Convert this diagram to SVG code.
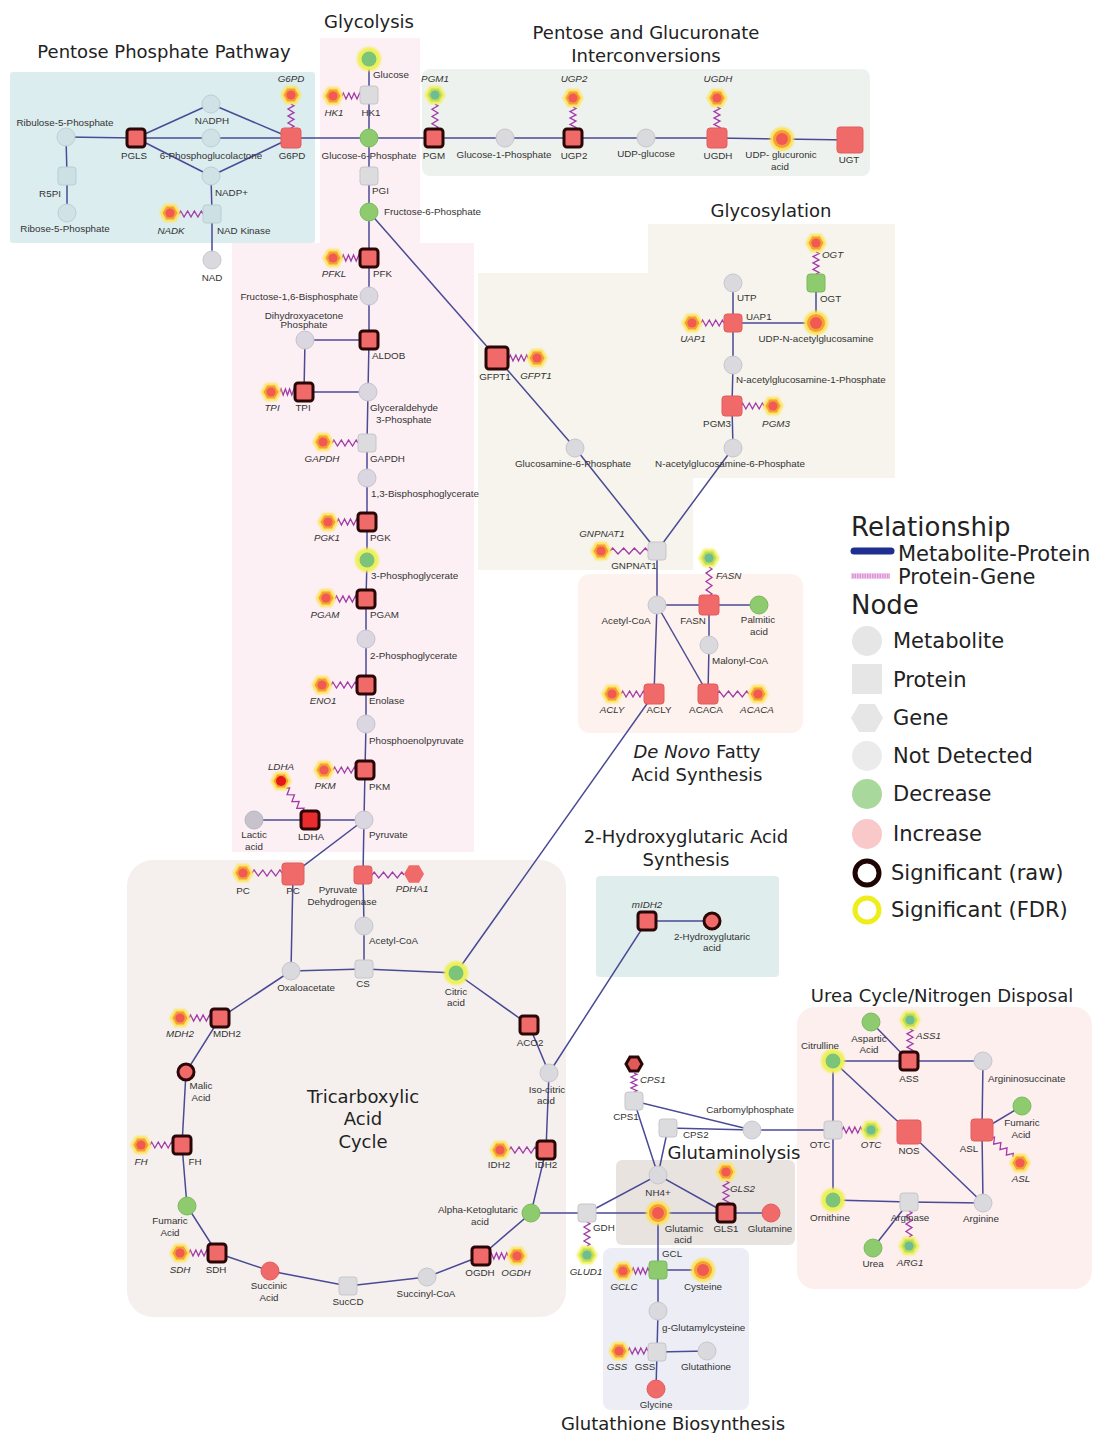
<svg xmlns="http://www.w3.org/2000/svg" xmlns:xlink="http://www.w3.org/1999/xlink" width="1095" height="1433" viewBox="0 0 1095 1433">
<style>
.t{font-family:"DejaVu Sans","Liberation Sans",sans-serif;fill:#222;font-size:18px;text-anchor:middle}
.lg{font-family:"DejaVu Sans","Liberation Sans",sans-serif;fill:#222;font-size:21px}
.lh{font-family:"DejaVu Sans","Liberation Sans",sans-serif;fill:#222;font-size:26px}
.l{font-family:"Liberation Sans",Arial,sans-serif;font-size:9.8px;fill:#333;text-anchor:middle}
.s{text-anchor:start}
.e{text-anchor:end}
.i{font-style:italic}
.m{fill:#d9d9de;stroke:#c6c6cc;stroke-width:1}
.mb{fill:#d0e2e5;stroke:#b9d0d4;stroke-width:1}
.mp{fill:#dbd7e1;stroke:#c6c2ce;stroke-width:1}
.p{fill:#dcdcdf;stroke:#c6c6ca;stroke-width:1}
.pb{fill:#cde1e4;stroke:#b6cfd2;stroke-width:1}
.red{fill:#f06a6a;stroke:#e35c5c;stroke-width:1}
.grn{fill:#8ecb6e;stroke:#7bba5c;stroke-width:1}
.raw{stroke:#2a0606;stroke-width:3}
#edges line,#edges polyline{stroke:#4a4a96;stroke-width:1.5;fill:none}
</style>
<defs>
<filter id="glow" x="-50%" y="-50%" width="200%" height="200%"><feGaussianBlur stdDeviation="1.3"/></filter>
<path id="zz" d="M0,0 L0.07,-3 L0.21,3 L0.36,-3 L0.5,3 L0.64,-3 L0.79,3 L0.93,-3 L1,0" fill="none" stroke="#a23aa8" stroke-width="1.3" vector-effect="non-scaling-stroke"/>
<g id="gR"><polygon points="10.5,0 5.25,9.1 -5.25,9.1 -10.5,0 -5.25,-9.1 5.25,-9.1" fill="#fbe35a" filter="url(#glow)"/><polygon points="7.5,0 3.75,6.5 -3.75,6.5 -7.5,0 -3.75,-6.5 3.75,-6.5" fill="#f6a034"/><circle r="4.6" fill="#f05a52"/></g>
<g id="gG"><polygon points="10.5,0 5.25,9.1 -5.25,9.1 -10.5,0 -5.25,-9.1 5.25,-9.1" fill="#eef05a" filter="url(#glow)"/><polygon points="7.5,0 3.75,6.5 -3.75,6.5 -7.5,0 -3.75,-6.5 3.75,-6.5" fill="#bfdc56"/><circle r="4.6" fill="#6dbd92"/></g>
<g id="gL"><polygon points="10.5,0 5.25,9.1 -5.25,9.1 -10.5,0 -5.25,-9.1 5.25,-9.1" fill="#fbe35a" filter="url(#glow)"/><polygon points="7.5,0 3.75,6.5 -3.75,6.5 -7.5,0 -3.75,-6.5 3.75,-6.5" fill="#f4a030"/><circle r="5" fill="#e4161a"/></g>
<g id="fG"><circle r="12" fill="#eef05a" filter="url(#glow)"/><circle r="7.5" fill="#7cc47a"/></g>
<g id="fR"><circle r="12" fill="#fae25a" filter="url(#glow)"/><circle r="9" fill="#f6a034"/><circle r="6" fill="#f05a52"/></g>
</defs>
<rect width="1095" height="1433" fill="#ffffff"/>

<g id="backgrounds">
<rect x="10" y="72" width="305" height="171" rx="3" fill="#dcedef"/>
<path d="M320,38 H420 V243 H474 V852 H232 V243 H320 Z" fill="#fcf0f4"/>
<rect x="422" y="69" width="448" height="107" rx="8" fill="#eef2ee"/>
<path d="M648,224 H895 V478 H693 V570 H478 V273 H648 Z" fill="#f6f4ec"/>
<rect x="578" y="574" width="225" height="159" rx="12" fill="#fdf2ed"/>
<rect x="596" y="876" width="183" height="101" rx="4" fill="#dfeded"/>
<rect x="127" y="860" width="439" height="457" rx="26" fill="#f5f0ee"/>
<rect x="797" y="1007" width="295" height="282" rx="18" fill="#fcefee"/>
<rect x="616" y="1160" width="179" height="85" rx="6" fill="#e9e3e0"/>
<rect x="603" y="1248" width="146" height="162" rx="8" fill="#edeef5"/>
</g>

<g id="titles">
<text class="t" x="164" y="58">Pentose Phosphate Pathway</text>
<text class="t" x="369" y="28">Glycolysis</text>
<text class="t" x="646" y="39">Pentose and Glucuronate</text>
<text class="t" x="646" y="62">Interconversions</text>
<text class="t" x="771" y="217">Glycosylation</text>
<text class="t" x="697" y="758"><tspan font-style="italic">De Novo</tspan> Fatty</text>
<text class="t" x="697" y="781">Acid Synthesis</text>
<text class="t" x="686" y="843">2-Hydroxyglutaric Acid</text>
<text class="t" x="686" y="866">Synthesis</text>
<text class="t" x="942" y="1002">Urea Cycle/Nitrogen Disposal</text>
<text class="t" x="734" y="1159">Glutaminolysis</text>
<text class="t" x="363" y="1103">Tricarboxylic</text>
<text class="t" x="363" y="1125">Acid</text>
<text class="t" x="363" y="1148">Cycle</text>
<text class="t" x="673" y="1430">Glutathione Biosynthesis</text>
</g>

<g id="edges">
<line x1="66" y1="137" x2="136" y2="138"/>
<polyline points="66,137 67,176 67,213"/>
<line x1="136" y1="138" x2="211" y2="104"/>
<line x1="136" y1="138" x2="211" y2="138"/>
<line x1="136" y1="138" x2="211" y2="176"/>
<line x1="211" y1="104" x2="291" y2="138"/>
<line x1="211" y1="138" x2="291" y2="138"/>
<line x1="211" y1="176" x2="291" y2="138"/>
<polyline points="211,176 212,214 212,260"/>
<polyline points="291,138 369,138 434,138 505,138 573,138 646,138 717,138 782,139 850,140"/>
<polyline points="369,59 369,95 369,138 369,176 369,212 369,258 369,296 369,340 368,392 367,443 367,478 367,522 367,560 366,599 366,639 366,685 366,724 365,770 364,820 363,875 364,926 364,969"/>
<polyline points="369,340 305,340 304,392 368,392"/>
<polyline points="364,820 310,820 254,820"/>
<polyline points="364,820 293,874 291,971"/>
<line x1="369" y1="212" x2="497" y2="358"/>
<polyline points="497,358 575,448 657,551 733,448"/>
<polyline points="733,448 732,406 733,365 733,323 733,283"/>
<polyline points="733,323 816,323 816,283"/>
<polyline points="657,551 657,605 709,605 759,605"/>
<polyline points="709,605 709,645 708,694"/>
<line x1="657" y1="605" x2="708" y2="694"/>
<polyline points="657,605 654,694 456,973"/>
<polyline points="291,971 364,969 456,973"/>
<polyline points="456,973 529,1025 549,1073 546,1150 531,1213 481,1256 427,1277 348,1286 270,1271 217,1253 187,1206 182,1145 186,1072 220,1018 291,971"/>
<polyline points="549,1073 647,921 712,921"/>
<polyline points="531,1213 587,1213 658,1213 726,1213 771,1213"/>
<polyline points="587,1213 658,1175 726,1213"/>
<polyline points="658,1175 634,1101 752,1130 833,1130"/>
<polyline points="658,1175 668,1128 752,1130"/>
<polyline points="658,1213 658,1270 703,1270"/>
<polyline points="658,1270 658,1311 657,1352 707,1351"/>
<line x1="657" y1="1352" x2="656" y2="1389"/>
<polyline points="833,1061 909,1061 983,1061 982,1130 983,1203"/>
<line x1="871" y1="1022" x2="909" y2="1061"/>
<line x1="982" y1="1130" x2="1022" y2="1106"/>
<polyline points="833,1061 833,1130 833,1200 909,1202 983,1203"/>
<polyline points="833,1061 909,1132 983,1203"/>
<line x1="909" y1="1202" x2="873" y2="1248"/>
<!-- protein-gene zigzags -->
<use href="#zz" transform="translate(291,104) rotate(90) scale(24,1)"/>
<use href="#zz" transform="translate(179,214) scale(24,1)"/>
<use href="#zz" transform="translate(342,96) scale(19,1)"/>
<use href="#zz" transform="translate(435,104) rotate(90) scale(25,1)"/>
<use href="#zz" transform="translate(573,107) rotate(90) scale(22,1)"/>
<use href="#zz" transform="translate(717,107) rotate(90) scale(22,1)"/>
<use href="#zz" transform="translate(342,258) scale(18,1)"/>
<use href="#zz" transform="translate(280,392) scale(15,1)"/>
<use href="#zz" transform="translate(332,443) scale(26,1)"/>
<use href="#zz" transform="translate(337,522) scale(21,1)"/>
<use href="#zz" transform="translate(335,599) scale(22,1)"/>
<use href="#zz" transform="translate(331,685) scale(26,1)"/>
<use href="#zz" transform="translate(333,770) scale(23,1)"/>
<use href="#zz" transform="translate(286,788) rotate(54.7) scale(29,1)"/>
<use href="#zz" transform="translate(509,358) scale(19,1)"/>
<use href="#zz" transform="translate(701,323) scale(23,1)"/>
<use href="#zz" transform="translate(816,252) rotate(90) scale(22,1)"/>
<use href="#zz" transform="translate(741,406) scale(23,1)"/>
<use href="#zz" transform="translate(610,551) scale(38,1)"/>
<use href="#zz" transform="translate(709,567) rotate(90) scale(29,1)"/>
<use href="#zz" transform="translate(621,694) scale(24,1)"/>
<use href="#zz" transform="translate(717,694) scale(32,1)"/>
<use href="#zz" transform="translate(252,873) scale(30,1)"/>
<use href="#zz" transform="translate(372,875) scale(32,1)"/>
<use href="#zz" transform="translate(189,1018) scale(22,1)"/>
<use href="#zz" transform="translate(150,1145) scale(23,1)"/>
<use href="#zz" transform="translate(189,1253) scale(19,1)"/>
<use href="#zz" transform="translate(509,1150) scale(28,1)"/>
<use href="#zz" transform="translate(490,1256) scale(18,1)"/>
<use href="#zz" transform="translate(634,1073) rotate(90) scale(19,1)"/>
<use href="#zz" transform="translate(587,1222) rotate(90) scale(24,1)"/>
<use href="#zz" transform="translate(726,1181) rotate(90) scale(23,1)"/>
<use href="#zz" transform="translate(632,1271) scale(17,1)"/>
<use href="#zz" transform="translate(628,1351) scale(20,1)"/>
<use href="#zz" transform="translate(910,1029) rotate(90) scale(23,1)"/>
<use href="#zz" transform="translate(842,1130) scale(20,1)"/>
<use href="#zz" transform="translate(991,1138) rotate(40.8) scale(29,1)"/>
<use href="#zz" transform="translate(909,1211) rotate(90) scale(26,1)"/>
</g>

<g id="nodes">
<!-- Pentose Phosphate Pathway -->
<g id="ribulose5p"><circle class="mb" cx="66" cy="137" r="9"/><text class="l" x="65" y="126">Ribulose-5-Phosphate</text></g>
<g id="r5pi"><rect class="pb" x="58" y="167" width="18" height="18" rx="3"/><text class="l" x="50" y="197">R5PI</text></g>
<g id="ribose5p"><circle class="mb" cx="67" cy="213" r="9"/><text class="l" x="65" y="232">Ribose-5-Phosphate</text></g>
<g id="pgls"><rect class="red raw" x="127" y="129" width="18" height="18" rx="3"/><text class="l" x="134" y="159">PGLS</text></g>
<g id="nadph"><circle class="mb" cx="211" cy="104" r="9"/><text class="l" x="212" y="124">NADPH</text></g>
<g id="pgl6"><circle class="mb" cx="211" cy="138" r="9"/><text class="l" x="211" y="159">6-Phosphoglucolactone</text></g>
<g id="nadp"><circle class="mb" cx="211" cy="176" r="9"/><text class="l s" x="215" y="196">NADP+</text></g>
<g id="nadkinase"><rect class="pb" x="203" y="205" width="18" height="18" rx="3"/><text class="l s" x="217" y="234">NAD Kinase</text></g>
<g id="nadk-gene"><use href="#gR" x="170" y="213"/><text class="l i" x="171" y="234">NADK</text></g>
<g id="nad"><circle class="m" cx="212" cy="260" r="9"/><text class="l" x="212" y="281">NAD</text></g>
<g id="g6pd"><rect class="red" x="281" y="128" width="20" height="20" rx="3"/><text class="l" x="292" y="159">G6PD</text></g>
<g id="g6pd-gene"><use href="#gR" x="291" y="95"/><text class="l i" x="291" y="82">G6PD</text></g>

<!-- Glycolysis -->
<g id="glucose"><use href="#fG" x="369" y="59"/><text class="l s" x="373" y="78">Glucose</text></g>
<g id="hk1"><rect class="p" x="360" y="86" width="18" height="18" rx="3"/><text class="l" x="371" y="116">HK1</text></g>
<g id="hk1-gene"><use href="#gR" x="333" y="96"/><text class="l i" x="334" y="116">HK1</text></g>
<g id="g6p"><circle class="grn" cx="369" cy="138" r="9"/><text class="l" x="369" y="159">Glucose-6-Phosphate</text></g>
<g id="pgi"><rect class="p" x="360" y="167" width="18" height="18" rx="3"/><text class="l s" x="372" y="194">PGI</text></g>
<g id="f6p"><circle class="grn" cx="369" cy="212" r="9"/><text class="l s" x="384" y="215">Fructose-6-Phosphate</text></g>
<g id="pfk"><rect class="red raw" x="360" y="249" width="18" height="18" rx="3"/><text class="l s" x="373" y="277">PFK</text></g>
<g id="pfkl-gene"><use href="#gR" x="333" y="258"/><text class="l i" x="334" y="277">PFKL</text></g>
<g id="f16bp"><circle class="mp" cx="369" cy="296" r="9"/><text class="l e" x="358" y="300">Fructose-1,6-Bisphosphate</text></g>
<g id="dhap"><circle class="mp" cx="305" cy="340" r="9"/><text class="l" x="304" y="319">Dihydroxyacetone</text><text class="l" x="304" y="328">Phosphate</text></g>
<g id="aldob"><rect class="red raw" x="360" y="331" width="18" height="18" rx="3"/><text class="l s" x="372" y="359">ALDOB</text></g>
<g id="tpi"><rect class="red raw" x="295" y="383" width="18" height="18" rx="3"/><text class="l" x="303" y="411">TPI</text></g>
<g id="tpi-gene"><use href="#gR" x="271" y="392"/><text class="l i" x="272" y="411">TPI</text></g>
<g id="g3p"><circle class="mp" cx="368" cy="392" r="9"/><text class="l s" x="370" y="411">Glyceraldehyde</text><text class="l s" x="376" y="423">3-Phosphate</text></g>
<g id="gapdh"><rect class="p" x="358" y="434" width="18" height="18" rx="3"/><text class="l s" x="370" y="462">GAPDH</text></g>
<g id="gapdh-gene"><use href="#gR" x="323" y="442"/><text class="l i" x="322" y="462">GAPDH</text></g>
<g id="bpg13"><circle class="mp" cx="367" cy="478" r="9"/><text class="l s" x="371" y="497">1,3-Bisphosphoglycerate</text></g>
<g id="pgk"><rect class="red raw" x="358" y="513" width="18" height="18" rx="3"/><text class="l s" x="370" y="541">PGK</text></g>
<g id="pgk1-gene"><use href="#gR" x="328" y="522"/><text class="l i" x="327" y="541">PGK1</text></g>
<g id="pg3"><use href="#fG" x="367" y="560"/><text class="l s" x="371" y="579">3-Phosphoglycerate</text></g>
<g id="pgam"><rect class="red raw" x="357" y="590" width="18" height="18" rx="3"/><text class="l s" x="370" y="618">PGAM</text></g>
<g id="pgam-gene"><use href="#gR" x="326" y="598"/><text class="l i" x="325" y="618">PGAM</text></g>
<g id="pg2"><circle class="mp" cx="366" cy="639" r="9"/><text class="l s" x="370" y="659">2-Phosphoglycerate</text></g>
<g id="enolase"><rect class="red raw" x="357" y="676" width="18" height="18" rx="3"/><text class="l s" x="369" y="704">Enolase</text></g>
<g id="eno1-gene"><use href="#gR" x="322" y="685"/><text class="l i" x="323" y="704">ENO1</text></g>
<g id="pep"><circle class="mp" cx="366" cy="724" r="9"/><text class="l s" x="369" y="744">Phosphoenolpyruvate</text></g>
<g id="pkm"><rect class="red raw" x="356" y="761" width="18" height="18" rx="3"/><text class="l s" x="369" y="790">PKM</text></g>
<g id="pkm-gene"><use href="#gR" x="324" y="770"/><text class="l i" x="325" y="789">PKM</text></g>
<g id="pyruvate"><circle class="mp" cx="364" cy="820" r="9"/><text class="l s" x="369" y="838">Pyruvate</text></g>
<g id="ldha"><rect class="raw" fill="#ea2c2c" x="301" y="811" width="18" height="18" rx="3"/><text class="l" x="311" y="840">LDHA</text></g>
<g id="ldha-gene"><use href="#gL" x="281" y="781"/><text class="l i" x="281" y="770">LDHA</text></g>
<g id="lactic"><circle fill="#c7c3cd" stroke="#b8b4c0" cx="254" cy="820" r="9"/><text class="l" x="254" y="838">Lactic</text><text class="l" x="254" y="850">acid</text></g>

<!-- Pentose and Glucuronate -->
<g id="pgm"><rect class="red raw" x="425" y="129" width="18" height="18" rx="3"/><text class="l" x="434" y="159">PGM</text></g>
<g id="pgm1-gene"><use href="#gG" x="435" y="95"/><text class="l i" x="435" y="82">PGM1</text></g>
<g id="g1p"><circle class="m" cx="505" cy="138" r="9"/><text class="l" x="504" y="158">Glucose-1-Phosphate</text></g>
<g id="ugp2"><rect class="red raw" x="564" y="129" width="18" height="18" rx="3"/><text class="l" x="574" y="159">UGP2</text></g>
<g id="ugp2-gene"><use href="#gR" x="573" y="98"/><text class="l i" x="574" y="82">UGP2</text></g>
<g id="udpglucose"><circle class="m" cx="646" cy="138" r="9"/><text class="l" x="646" y="157">UDP-glucose</text></g>
<g id="ugdh"><rect class="red" x="707" y="128" width="20" height="20" rx="3"/><text class="l" x="718" y="159">UGDH</text></g>
<g id="ugdh-gene"><use href="#gR" x="717" y="98"/><text class="l i" x="718" y="82">UGDH</text></g>
<g id="udpga"><use href="#fR" x="782" y="139"/><text class="l" x="781" y="158">UDP- glucuronic</text><text class="l" x="780" y="170">acid</text></g>
<g id="ugt"><rect class="red" x="837" y="127" width="26" height="26" rx="3"/><text class="l" x="849" y="163">UGT</text></g>

<!-- Glycosylation -->
<g id="gfpt1"><rect class="red raw" x="486" y="347" width="22" height="22" rx="3"/><text class="l" x="495" y="380">GFPT1</text></g>
<g id="gfpt1-gene"><use href="#gR" x="537" y="358"/><text class="l i" x="536" y="379">GFPT1</text></g>
<g id="glcn6p"><circle class="m" cx="575" cy="448" r="9"/><text class="l" x="573" y="467">Glucosamine-6-Phosphate</text></g>
<g id="utp"><circle class="m" cx="733" cy="283" r="9"/><text class="l s" x="737" y="301">UTP</text></g>
<g id="uap1"><rect class="red" x="724" y="314" width="18" height="18" rx="3"/><text class="l s" x="746" y="320">UAP1</text></g>
<g id="uap1-gene"><use href="#gR" x="692" y="323"/><text class="l i" x="693" y="342">UAP1</text></g>
<g id="udpglcnac"><use href="#fR" x="816" y="323"/><text class="l" x="816" y="342">UDP-N-acetylglucosamine</text></g>
<g id="ogt"><rect class="grn" x="807" y="274" width="18" height="18" rx="3"/><text class="l s" x="820" y="302">OGT</text></g>
<g id="ogt-gene"><use href="#gR" x="816" y="243"/><text class="l i s" x="822" y="258">OGT</text></g>
<g id="glcnac1p"><circle class="m" cx="733" cy="365" r="9"/><text class="l s" x="736" y="383">N-acetylglucosamine-1-Phosphate</text></g>
<g id="pgm3"><rect class="red" x="722" y="396" width="20" height="20" rx="3"/><text class="l" x="717" y="427">PGM3</text></g>
<g id="pgm3-gene"><use href="#gR" x="773" y="406"/><text class="l i" x="776" y="427">PGM3</text></g>
<g id="glcnac6p"><circle class="m" cx="733" cy="448" r="9"/><text class="l" x="730" y="467">N-acetylglucosamine-6-Phosphate</text></g>
<g id="gnpnat1"><rect class="p" x="648" y="542" width="18" height="18" rx="3"/><text class="l" x="634" y="569">GNPNAT1</text></g>
<g id="gnpnat1-gene"><use href="#gR" x="601" y="551"/><text class="l i" x="602" y="537">GNPNAT1</text></g>

<!-- De Novo Fatty Acid Synthesis -->
<g id="acetylcoa-fas"><circle class="m" cx="657" cy="605" r="9"/><text class="l" x="626" y="624">Acetyl-CoA</text></g>
<g id="fasn"><rect class="red" x="699" y="595" width="20" height="20" rx="3"/><text class="l" x="693" y="624">FASN</text></g>
<g id="fasn-gene"><use href="#gG" x="709" y="558"/><text class="l i s" x="716" y="579">FASN</text></g>
<g id="palmitic"><circle class="grn" cx="759" cy="605" r="9"/><text class="l" x="758" y="623">Palmitic</text><text class="l" x="759" y="635">acid</text></g>
<g id="malonylcoa"><circle class="m" cx="709" cy="645" r="9"/><text class="l s" x="712" y="664">Malonyl-CoA</text></g>
<g id="acly"><rect class="red" x="644" y="684" width="20" height="20" rx="3"/><text class="l" x="659" y="713">ACLY</text></g>
<g id="acly-gene"><use href="#gR" x="612" y="694"/><text class="l i" x="612" y="713">ACLY</text></g>
<g id="acaca"><rect class="red" x="698" y="684" width="20" height="20" rx="3"/><text class="l" x="706" y="713">ACACA</text></g>
<g id="acaca-gene"><use href="#gR" x="758" y="694"/><text class="l i" x="757" y="713">ACACA</text></g>

<!-- TCA -->
<g id="pc"><rect class="red" x="282" y="863" width="22" height="22" rx="3"/><text class="l" x="293" y="894">PC</text></g>
<g id="pc-gene"><use href="#gR" x="243" y="873"/><text class="l" x="243" y="894">PC</text></g>
<g id="pdh"><rect class="red" x="354" y="866" width="18" height="18" rx="3"/><text class="l" x="338" y="893">Pyruvate</text><text class="l" x="342" y="905">Dehydrogenase</text></g>
<g id="pdha1-gene"><polygon fill="#f06a6a" points="424,874 419,882.7 409,882.7 404,874 409,865.3 419,865.3"/><text class="l i" x="412" y="892">PDHA1</text></g>
<g id="acetylcoa-tca"><circle class="m" cx="364" cy="926" r="9"/><text class="l s" x="369" y="944">Acetyl-CoA</text></g>
<g id="cs"><rect class="p" x="355" y="960" width="18" height="18" rx="3"/><text class="l" x="363" y="987">CS</text></g>
<g id="oxaloacetate"><circle class="m" cx="291" cy="971" r="9"/><text class="l" x="306" y="991">Oxaloacetate</text></g>
<g id="citric"><use href="#fG" x="456" y="973"/><text class="l" x="456" y="995">Citric</text><text class="l" x="456" y="1006">acid</text></g>
<g id="aco2"><rect class="red raw" x="520" y="1016" width="18" height="18" rx="3"/><text class="l" x="530" y="1046">ACO2</text></g>
<g id="isocitric"><circle class="m" cx="549" cy="1073" r="9"/><text class="l" x="547" y="1093">Iso-citric</text><text class="l" x="546" y="1104">acid</text></g>
<g id="idh2"><rect class="red raw" x="537" y="1141" width="18" height="18" rx="3"/><text class="l" x="546" y="1168">IDH2</text></g>
<g id="idh2-gene"><use href="#gR" x="500" y="1150"/><text class="l" x="499" y="1168">IDH2</text></g>
<g id="akg"><circle class="grn" cx="531" cy="1213" r="9"/><text class="l" x="478" y="1213">Alpha-Ketoglutaric</text><text class="l" x="480" y="1225">acid</text></g>
<g id="ogdh"><rect class="red raw" x="472" y="1247" width="18" height="18" rx="3"/><text class="l" x="480" y="1276">OGDH</text></g>
<g id="ogdh-gene"><use href="#gR" x="517" y="1256"/><text class="l i" x="516" y="1276">OGDH</text></g>
<g id="succinylcoa"><circle class="m" cx="427" cy="1277" r="9"/><text class="l" x="426" y="1297">Succinyl-CoA</text></g>
<g id="succd"><rect class="p" x="339" y="1277" width="18" height="18" rx="3"/><text class="l" x="348" y="1305">SucCD</text></g>
<g id="succinic"><circle class="red" cx="270" cy="1271" r="9"/><text class="l" x="269" y="1289">Succinic</text><text class="l" x="269" y="1301">Acid</text></g>
<g id="sdh"><rect class="red raw" x="208" y="1244" width="18" height="18" rx="3"/><text class="l" x="216" y="1273">SDH</text></g>
<g id="sdh-gene"><use href="#gR" x="180" y="1253"/><text class="l i" x="180" y="1273">SDH</text></g>
<g id="fumaric-tca"><circle class="grn" cx="187" cy="1206" r="9"/><text class="l" x="170" y="1224">Fumaric</text><text class="l" x="170" y="1236">Acid</text></g>
<g id="fh"><rect class="red raw" x="173" y="1136" width="18" height="18" rx="3"/><text class="l" x="195" y="1165">FH</text></g>
<g id="fh-gene"><use href="#gR" x="141" y="1145"/><text class="l i" x="141" y="1165">FH</text></g>
<g id="malic"><circle class="red raw" cx="186" cy="1072" r="8"/><text class="l" x="201" y="1089">Malic</text><text class="l" x="201" y="1101">Acid</text></g>
<g id="mdh2"><rect class="red raw" x="211" y="1009" width="18" height="18" rx="3"/><text class="l" x="227" y="1037">MDH2</text></g>
<g id="mdh2-gene"><use href="#gR" x="180" y="1018"/><text class="l i" x="180" y="1037">MDH2</text></g>

<!-- 2-HG -->
<g id="midh2"><rect class="red raw" x="638" y="912" width="18" height="18" rx="3"/><text class="l i" x="647" y="908">mIDH2</text></g>
<g id="hg2"><circle class="red raw" cx="712" cy="921" r="8"/><text class="l" x="712" y="940">2-Hydroxyglutaric</text><text class="l" x="712" y="951">acid</text></g>

<!-- Glutaminolysis -->
<g id="cps1-gene"><polygon fill="#e05a58" stroke="#2a0606" stroke-width="3" points="642,1064 638,1071 630,1071 626,1064 630,1057 638,1057"/><text class="l i s" x="640" y="1083">CPS1</text></g>
<g id="cps1"><rect class="p" x="625" y="1092" width="18" height="18" rx="3"/><text class="l" x="626" y="1120">CPS1</text></g>
<g id="cps2"><rect class="p" x="659" y="1119" width="18" height="18" rx="3"/><text class="l s" x="683" y="1138">CPS2</text></g>
<g id="carbomylphosphate"><circle class="m" cx="752" cy="1130" r="9"/><text class="l" x="750" y="1113">Carbomylphosphate</text></g>
<g id="nh4"><circle class="m" cx="658" cy="1175" r="9"/><text class="l" x="658" y="1196">NH4+</text></g>
<g id="gdh"><rect class="p" x="578" y="1204" width="18" height="18" rx="3"/><text class="l s" x="593" y="1231">GDH</text></g>
<g id="glud1-gene"><use href="#gG" x="587" y="1255"/><text class="l i" x="586" y="1275">GLUD1</text></g>
<g id="glutamic"><use href="#fR" x="658" y="1213"/><text class="l" x="684" y="1232">Glutamic</text><text class="l" x="683" y="1243">acid</text></g>
<g id="gls1"><rect class="red raw" x="717" y="1204" width="18" height="18" rx="3"/><text class="l" x="726" y="1232">GLS1</text></g>
<g id="gls2-gene"><use href="#gR" x="726" y="1172"/><text class="l i s" x="730" y="1192">GLS2</text></g>
<g id="glutamine"><circle class="red" cx="771" cy="1213" r="9"/><text class="l" x="770" y="1232">Glutamine</text></g>

<!-- Glutathione -->
<g id="gcl"><rect class="grn" x="649" y="1261" width="18" height="18" rx="3"/><text class="l s" x="662" y="1257">GCL</text></g>
<g id="gclc-gene"><use href="#gR" x="623" y="1271"/><text class="l i" x="624" y="1290">GCLC</text></g>
<g id="cysteine"><use href="#fR" x="703" y="1270"/><text class="l" x="703" y="1290">Cysteine</text></g>
<g id="gglutamylcysteine"><circle class="m" cx="658" cy="1311" r="9"/><text class="l s" x="662" y="1331">g-Glutamylcysteine</text></g>
<g id="gss"><rect class="p" x="648" y="1343" width="18" height="18" rx="3"/><text class="l" x="645" y="1370">GSS</text></g>
<g id="gss-gene"><use href="#gR" x="619" y="1351"/><text class="l i" x="617" y="1370">GSS</text></g>
<g id="glutathione"><circle class="m" cx="707" cy="1351" r="9"/><text class="l" x="706" y="1370">Glutathione</text></g>
<g id="glycine"><circle class="red" cx="656" cy="1389" r="9"/><text class="l" x="656" y="1408">Glycine</text></g>

<!-- Urea cycle -->
<g id="aspartic"><circle class="grn" cx="871" cy="1022" r="9"/><text class="l" x="869" y="1042">Aspartic</text><text class="l" x="869" y="1053">Acid</text></g>
<g id="ass1-gene"><use href="#gG" x="910" y="1020"/><text class="l i s" x="916" y="1039">ASS1</text></g>
<g id="ass"><rect class="red raw" x="900" y="1052" width="18" height="18" rx="3"/><text class="l" x="909" y="1082">ASS</text></g>
<g id="citrulline"><use href="#fG" x="833" y="1061"/><text class="l" x="820" y="1049">Citrulline</text></g>
<g id="argininosuccinate"><circle class="m" cx="983" cy="1061" r="9"/><text class="l s" x="988" y="1082">Argininosuccinate</text></g>
<g id="otc"><rect class="p" x="824" y="1121" width="18" height="18" rx="3"/><text class="l" x="820" y="1148">OTC</text></g>
<g id="otc-gene"><use href="#gG" x="871" y="1130"/><text class="l i" x="871" y="1148">OTC</text></g>
<g id="nos"><rect class="red" x="897" y="1120" width="24" height="24" rx="3"/><text class="l" x="909" y="1154">NOS</text></g>
<g id="asl"><rect class="red" x="971" y="1119" width="22" height="22" rx="3"/><text class="l" x="969" y="1152">ASL</text></g>
<g id="asl-gene"><use href="#gR" x="1020" y="1163"/><text class="l i" x="1021" y="1182">ASL</text></g>
<g id="fumaric-urea"><circle class="grn" cx="1022" cy="1106" r="9"/><text class="l" x="1022" y="1126">Fumaric</text><text class="l" x="1021" y="1138">Acid</text></g>
<g id="ornithine"><use href="#fG" x="833" y="1200"/><text class="l" x="830" y="1221">Ornithine</text></g>
<g id="arginase"><rect class="p" x="900" y="1193" width="18" height="18" rx="3"/><text class="l" x="910" y="1221">Arginase</text></g>
<g id="arg1-gene"><use href="#gG" x="909" y="1246"/><text class="l i" x="910" y="1266">ARG1</text></g>
<g id="urea"><circle class="grn" cx="873" cy="1248" r="9"/><text class="l" x="873" y="1267">Urea</text></g>
<g id="arginine"><circle class="m" cx="983" cy="1203" r="9"/><text class="l" x="981" y="1222">Arginine</text></g>
</g>

<g id="legend">
<text class="lh" x="851" y="536">Relationship</text>
<line x1="854" y1="551" x2="891" y2="551" stroke="#1f2f8f" stroke-width="7" stroke-linecap="round"/>
<text class="lg" x="898" y="561">Metabolite-Protein</text>
<line x1="851" y1="576" x2="890" y2="576" stroke="#dc92d4" stroke-width="5"/>
<line x1="851" y1="576" x2="890" y2="576" stroke="#f3d2ef" stroke-width="5" stroke-dasharray="1 1.5"/>
<text class="lg" x="898" y="584">Protein-Gene</text>
<text class="lh" x="851" y="614">Node</text>
<circle cx="867" cy="641" r="15" fill="#e6e6e6"/>
<text class="lg" x="893" y="648">Metabolite</text>
<rect x="852" y="664" width="30" height="30" fill="#e6e6e6"/>
<text class="lg" x="893" y="687">Protein</text>
<polygon points="883,718 875,731.9 859,731.9 851,718 859,704.1 875,704.1" fill="#e6e6e6"/>
<text class="lg" x="893" y="725">Gene</text>
<circle cx="867" cy="756" r="15" fill="#ebebeb"/>
<text class="lg" x="893" y="763">Not Detected</text>
<circle cx="867" cy="794" r="15" fill="#a9d89c"/>
<text class="lg" x="893" y="801">Decrease</text>
<circle cx="867" cy="834" r="15" fill="#f9c9c9"/>
<text class="lg" x="893" y="841">Increase</text>
<circle cx="867" cy="873" r="12" fill="#ffffff" stroke="#1e0404" stroke-width="5"/>
<text class="lg" x="891" y="880">Significant (raw)</text>
<circle cx="867" cy="910" r="12" fill="#ffffff" stroke="#eeee1c" stroke-width="5"/>
<text class="lg" x="891" y="917">Significant (FDR)</text>
</g>
</svg>
